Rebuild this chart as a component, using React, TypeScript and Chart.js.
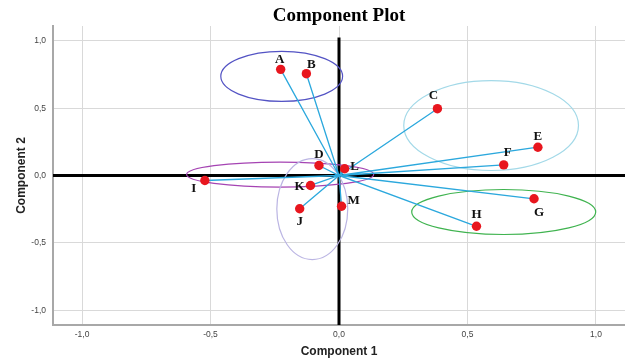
import React, { useEffect, useRef } from 'react';
import { Chart, registerables } from 'chart.js';

Chart.register(...registerables);

// ---- data ----
const variables = ['A', 'B', 'C', 'D', 'E', 'F', 'G', 'H', 'I', 'J', 'K', 'L', 'M'];
const component1 = [-0.227, -0.127, 0.383, -0.078, 0.774, 0.641, 0.759, 0.535, -0.522, -0.153, -0.111, 0.022, 0.01];
const component2 = [0.788, 0.756, 0.496, 0.074, 0.21, 0.079, -0.173, -0.377, -0.037, -0.247, -0.074, 0.05, -0.228];
const tickValues = [-1, -0.5, 0, 0.5, 1];

// groups (ellipses) in component units
const groupCenter1 = [-0.223, 0.592, 0.641, -0.229, -0.104];
const groupCenter2 = [0.736, 0.371, -0.271, 0.007, -0.249];
const groupRadius1 = [0.237, 0.34, 0.358, 0.364, 0.138];
const groupRadius2 = [0.186, 0.334, 0.167, 0.093, 0.375];

// ---- styles ----
const groupColors = ['#5353c4', '#a3d9e8', '#3fb34f', '#a544b3', '#bbb5e3'];
const labelOffsets: [number, number][] = [
  [-1, -10], [5, -9], [-4, -13], [0, -11], [0, -11], [4, -12], [5, 14],
  [0, -12], [-11, 8], [0, 13], [-11, 1], [10, -2], [12, -6],
];

const fmt = (v: number) => v.toFixed(1).replace('.', ',');

const decorPlugin = {
  id: 'decor',
  beforeDatasetsDraw(chart: any) {
    const { ctx, chartArea, scales } = chart;
    const xs = scales.x;
    const ys = scales.y;
    const pxX = Math.abs(xs.getPixelForValue(1) - xs.getPixelForValue(0));
    const pxY = Math.abs(ys.getPixelForValue(0) - ys.getPixelForValue(1));
    ctx.save();
    // zero axes
    ctx.strokeStyle = '#000';
    ctx.lineWidth = 3;
    ctx.beginPath();
    const y0 = ys.getPixelForValue(0);
    ctx.moveTo(chartArea.left, y0);
    ctx.lineTo(chartArea.right, y0);
    const x0 = xs.getPixelForValue(0);
    ctx.moveTo(x0, ys.getPixelForValue(1.025));
    ctx.lineTo(x0, chartArea.bottom);
    ctx.stroke();
    // ellipses
    ctx.lineWidth = 1.2;
    for (let i = 0; i < groupCenter1.length; i++) {
      ctx.strokeStyle = groupColors[i];
      ctx.beginPath();
      ctx.ellipse(
        xs.getPixelForValue(groupCenter1[i]),
        ys.getPixelForValue(groupCenter2[i]),
        groupRadius1[i] * pxX,
        groupRadius2[i] * pxY,
        0, 0, Math.PI * 2
      );
      ctx.stroke();
    }
    ctx.restore();
  },
  afterDatasetsDraw(chart: any) {
    const { ctx, scales } = chart;
    const xs = scales.x;
    const ys = scales.y;
    ctx.save();
    ctx.fillStyle = '#111';
    ctx.font = 'bold 13px "Liberation Serif", "Times New Roman", serif';
    ctx.textAlign = 'center';
    ctx.textBaseline = 'middle';
    for (let i = 0; i < variables.length; i++) {
      const px = xs.getPixelForValue(component1[i]) + labelOffsets[i][0];
      const py = ys.getPixelForValue(component2[i]) + labelOffsets[i][1];
      ctx.fillText(variables[i], px, py);
    }
    ctx.restore();
  },
};

export default function App() {
  const ref = useRef<HTMLCanvasElement | null>(null);

  useEffect(() => {
    if (!ref.current) return;
    const points = variables.map((_, i) => ({ x: component1[i], y: component2[i] }));
    const vectors: { x: number; y: number }[] = [];
    points.forEach((p) => {
      vectors.push({ x: 0, y: 0 });
      vectors.push(p);
    });

    const chart = new Chart(ref.current, {
      type: 'scatter',
      data: {
        datasets: [
          {
            label: 'points',
            data: points,
            pointRadius: 4.7,
            pointHoverRadius: 4.7,
            backgroundColor: '#e8161e',
            borderColor: '#e8161e',
            borderWidth: 0,
            order: 1,
          },
          {
            label: 'vectors',
            data: vectors,
            showLine: true,
            pointRadius: 0,
            borderColor: '#2ba8dd',
            borderWidth: 1.3,
            order: 2,
          } as any,
        ],
      },
      options: {
        animation: false,
        responsive: false,
        events: [],
        layout: { autoPadding: false, padding: { left: 0, right: 0, top: 0, bottom: 0 } },
        plugins: {
          legend: { display: false },
          tooltip: { enabled: false },
          title: {
            display: true,
            text: 'Component Plot',
            fullSize: false,
            color: '#000',
            font: { family: '"Liberation Serif", "Times New Roman", serif', size: 19, weight: 'bold', lineHeight: 1 },
            padding: { top: 7, bottom: 0 },
          },
        },
        scales: {
          x: {
            type: 'linear',
            min: -1.113,
            max: 1.113,
            afterBuildTicks: (s: any) => {
              s.ticks = tickValues.map((v) => ({ value: v }));
            },
            afterFit: (s: any) => {
              s.height = 38;
              s.paddingLeft = 0;
              s.paddingRight = 0;
            },
            grid: { color: '#d9d9d9', lineWidth: 1, drawTicks: false },
            border: { color: '#a8a8a8', width: 2 },
            ticks: {
              padding: 5,
              color: '#444',
              font: { family: '"Liberation Sans", Arial, sans-serif', size: 8.5 },
              callback: (v: any) => fmt(Number(v)),
            },
            title: {
              display: true,
              text: 'Component 1',
              color: '#222',
              font: { family: '"Liberation Sans", Arial, sans-serif', size: 12, weight: 'bold' },
              padding: { top: 0, bottom: 3.8 },
            },
          },
          y: {
            type: 'linear',
            min: -1.11,
            max: 1.11,
            afterBuildTicks: (s: any) => {
              s.ticks = tickValues.map((v) => ({ value: v }));
            },
            afterFit: (s: any) => {
              s.width = 53;
              s.paddingTop = 0;
              s.paddingBottom = 0;
            },
            grid: { color: '#d9d9d9', lineWidth: 1, drawTicks: false },
            border: { color: '#a8a8a8', width: 2 },
            ticks: {
              padding: 7,
              color: '#444',
              font: { family: '"Liberation Sans", Arial, sans-serif', size: 8.5 },
              callback: (v: any) => fmt(Number(v)),
            },
            title: {
              display: true,
              text: 'Component 2',
              color: '#222',
              font: { family: '"Liberation Sans", Arial, sans-serif', size: 12, weight: 'bold' },
              padding: { top: 14, bottom: 0 },
            },
          },
        },
      },
      plugins: [decorPlugin],
    });
    return () => chart.destroy();
  }, []);

  return (
    <div style={{ position: 'absolute', left: 0, top: 0, width: 625, height: 363, background: '#fff' }}>
      <canvas ref={ref} width={625} height={363} />
    </div>
  );
}
